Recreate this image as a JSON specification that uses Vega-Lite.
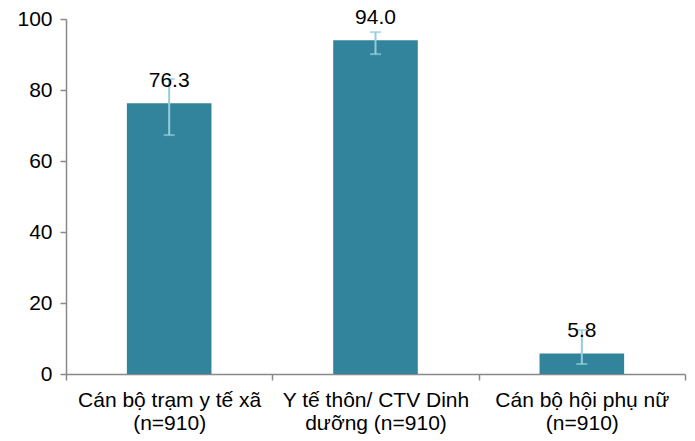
{
  "$schema": "https://vega.github.io/schema/vega-lite/v6.json",
  "autosize": {"type": "none"},
  "width": 619,
  "height": 355,
  "padding": {"left": 66, "top": 19, "right": 10, "bottom": 67},
  "background": "white",
  "config": {
    "view": {"stroke": null},
    "font": "Liberation Sans",
    "axis": {"grid": false, "domainColor": "#898989", "domainWidth": 1.5, "tickColor": "#898989", "tickWidth": 1.5, "labelFont": "Liberation Sans", "labelFontSize": 21, "labelColor": "#000000"}
  },
  "data": {"values": [
    {"cat": "Cán bộ trạm y tế xã\n(n=910)", "value": 76.3, "lo": 67.3, "hi": 83.1},
    {"cat": "Y tế thôn/ CTV Dinh\ndưỡng (n=910)", "value": 94.0, "lo": 90.1, "hi": 96.3},
    {"cat": "Cán bộ hội phụ nữ\n(n=910)", "value": 5.8, "lo": 2.8, "hi": 12.4}
  ]},
  "resolve": {"axis": {"x": "independent"}},
  "layer": [
    {
      "mark": {"type": "bar", "color": "#31849B"},
      "encoding": {
        "x": {"field": "cat", "type": "nominal", "sort": null, "title": null,
          "scale": {"paddingInner": 0.59, "paddingOuter": 0.295},
          "axis": {"orient": "bottom", "labelAngle": 0, "labelExpr": "split(datum.label, '\\n')", "labelLineHeight": 23, "labelLimit": 400, "tickOffset": -103.2, "labelOffset": 103.2, "tickSize": 6, "labelPadding": 9, "labelBaseline": "top"}},
        "y": {"field": "value", "type": "quantitative", "title": null,
          "scale": {"domain": [0, 100], "nice": false},
          "axis": {"values": [0, 20, 40, 60, 80, 100], "tickSize": 6, "labelPadding": 8}}
      }
    },
    {
      "mark": {"type": "rule", "color": "#93CDDD", "strokeWidth": 2},
      "encoding": {
        "x": {"field": "cat", "type": "nominal", "sort": null, "title": null,
          "axis": {"orient": "bottom", "values": ["Cán bộ hội phụ nữ\n(n=910)"], "labels": false, "domain": false, "tickOffset": 103.2, "tickSize": 6}},
        "y": {"field": "lo", "type": "quantitative"}, "y2": {"field": "hi"}}
    },
    {
      "mark": {"type": "tick", "color": "#93CDDD", "size": 11, "thickness": 2, "orient": "horizontal"},
      "encoding": {
        "x": {"field": "cat", "type": "nominal", "sort": null, "axis": null},
        "y": {"field": "lo", "type": "quantitative"}}
    },
    {
      "mark": {"type": "tick", "color": "#93CDDD", "size": 11, "thickness": 2, "orient": "horizontal"},
      "encoding": {
        "x": {"field": "cat", "type": "nominal", "sort": null, "axis": null},
        "y": {"field": "hi", "type": "quantitative"}}
    },
    {
      "mark": {"type": "text", "fontSize": 21, "baseline": "middle", "dy": -22, "color": "#000000"},
      "encoding": {
        "x": {"field": "cat", "type": "nominal", "sort": null, "axis": null},
        "y": {"field": "value", "type": "quantitative"},
        "text": {"field": "value", "type": "quantitative", "format": ".1f"}
      }
    }
  ]
}
